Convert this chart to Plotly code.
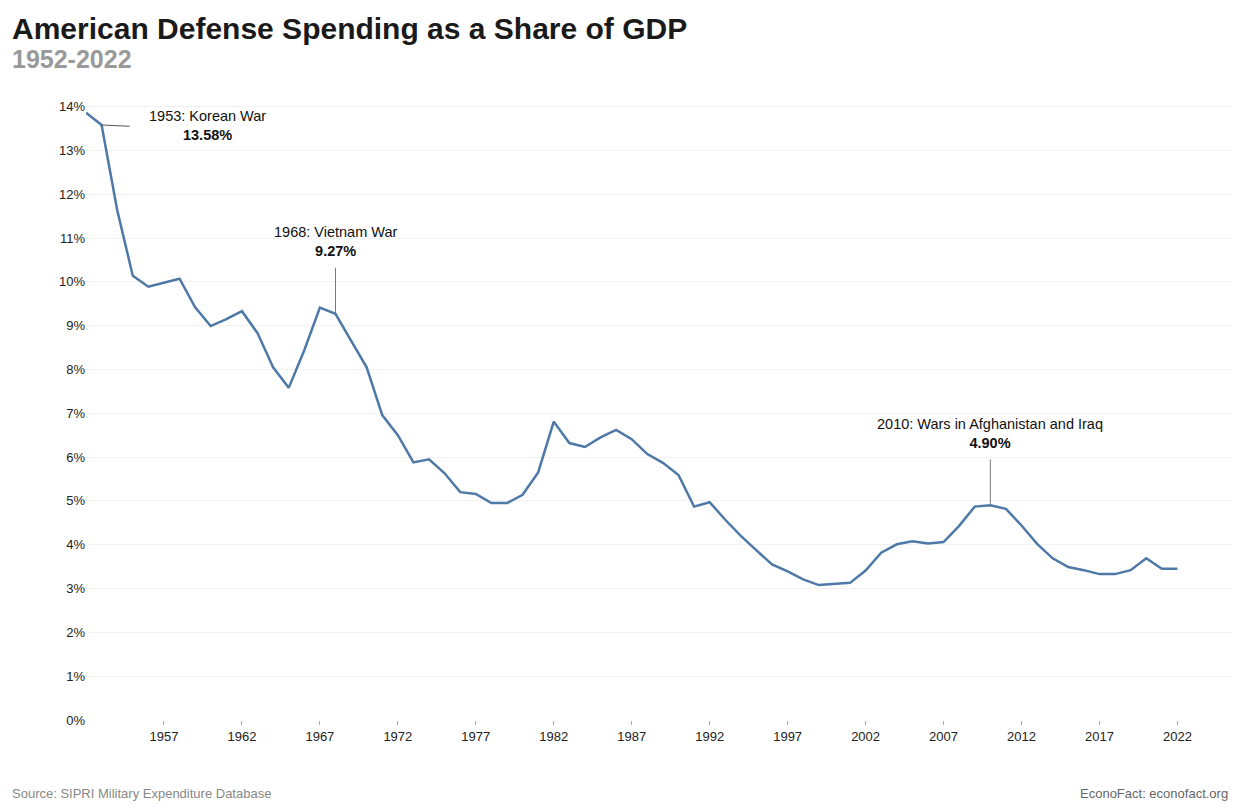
import plotly.graph_objects as go

# data (share of GDP, %)
years = list(range(1952, 2023))
spending = [
    13.86, 13.58, 11.64, 10.14, 9.89, 9.98, 10.07, 9.42, 8.99, 9.15,
    9.33, 8.83, 8.05, 7.58, 8.44, 9.41, 9.27, 8.66, 8.05, 6.96,
    6.50, 5.88, 5.95, 5.63, 5.20, 5.16, 4.95, 4.95, 5.14, 5.65,
    6.81, 6.32, 6.23, 6.45, 6.62, 6.41, 6.07, 5.87, 5.59, 4.87,
    4.97, 4.57, 4.20, 3.87, 3.55, 3.39, 3.21, 3.08, 3.11, 3.13,
    3.41, 3.82, 4.01, 4.08, 4.03, 4.06, 4.43, 4.87, 4.90, 4.82,
    4.44, 4.02, 3.69, 3.49, 3.42, 3.33, 3.33, 3.42, 3.69, 3.45,
    3.45,
]
x_ticks = list(range(1957, 2023, 5))
y_ticks = list(range(0, 15))
y_labels = [f"{v}%" for v in y_ticks]

# (year, value, label)
events = [
    (1953, 13.58, "1953: Korean War"),
    (1968, 9.27, "1968: Vietnam War"),
    (2010, 4.90, "2010: Wars in Afghanistan and Iraq"),
]

FONT = "Liberation Sans, Arial, sans-serif"

fig = go.Figure()
fig.add_trace(go.Scatter(
    x=years, y=spending, mode="lines",
    line=dict(color="#4e79a7", width=2.5),
    hovertemplate="%{x}: %{y:.2f}%<extra></extra>",
))

# event labels + leader lines
for yr, val, label in events:
    txt = f"{label}<br><b>{val:.2f}%</b>"
    if yr == 1953:
        # short sideways leader, text off to the right
        fig.add_shape(type="line", xref="x", yref="y", x0=yr, y0=val, x1=yr + 1.8, y1=val - 0.03,
                      line=dict(color="#555", width=1))
        fig.add_annotation(x=1959.8, y=val - 0.01, text=txt, showarrow=False,
                           xanchor="center", yanchor="middle", align="center",
                           font=dict(size=14.5, color="#111", family=FONT))
    else:
        fig.add_shape(type="line", xref="x", yref="y", x0=yr, y0=val, x1=yr, y1=val + 1.05,
                      line=dict(color="#777", width=1))
        fig.add_annotation(x=yr, y=val + 1.65, text=txt, showarrow=False,
                           xanchor="center", yanchor="middle", align="center",
                           font=dict(size=14.5, color="#111", family=FONT))

fig.add_annotation(text="<b>American Defense Spending as a Share of GDP</b>",
                   xref="paper", yref="paper", x=-0.0665, y=1.116, xanchor="left", yanchor="middle",
                   showarrow=False, font=dict(size=30, color="#1a1a1a", family=FONT))
fig.add_annotation(text="<b>1952-2022</b>",
                   xref="paper", yref="paper", x=-0.0665, y=1.066, xanchor="left", yanchor="middle",
                   showarrow=False, font=dict(size=25, color="#999", family=FONT))
fig.add_annotation(text="Source: SIPRI Military Expenditure Database",
                   xref="paper", yref="paper", x=-0.0665, y=-0.119, xanchor="left", yanchor="middle",
                   showarrow=False, font=dict(size=13, color="#888", family=FONT))
fig.add_annotation(text="EconoFact: econofact.org",
                   xref="paper", yref="paper", x=0.998, y=-0.119, xanchor="right", yanchor="middle",
                   showarrow=False, font=dict(size=13, color="#666", family=FONT))

# page has an 8px body margin, so the figure is a bit smaller than the window
fig.update_layout(
    width=1236, height=804,
    margin=dict(l=78, r=12, t=92, b=92),
    paper_bgcolor="white", plot_bgcolor="white",
    showlegend=False,
    font=dict(family=FONT, size=13, color="#222"),
    xaxis=dict(range=[1952, 2025.5], tickvals=x_ticks, showgrid=False,
               ticks="outside", ticklen=4, tickcolor="#aaa", zeroline=False,
               showline=False, tickfont=dict(size=13, color="#222")),
    yaxis=dict(range=[0, 14.15], tickvals=y_ticks, ticktext=y_labels,
               showgrid=True, gridcolor="#f2f2f2", gridwidth=1, zeroline=False,
               showline=False, ticks="", tickfont=dict(size=13, color="#222")),
)

fig.write_html("out.html")
